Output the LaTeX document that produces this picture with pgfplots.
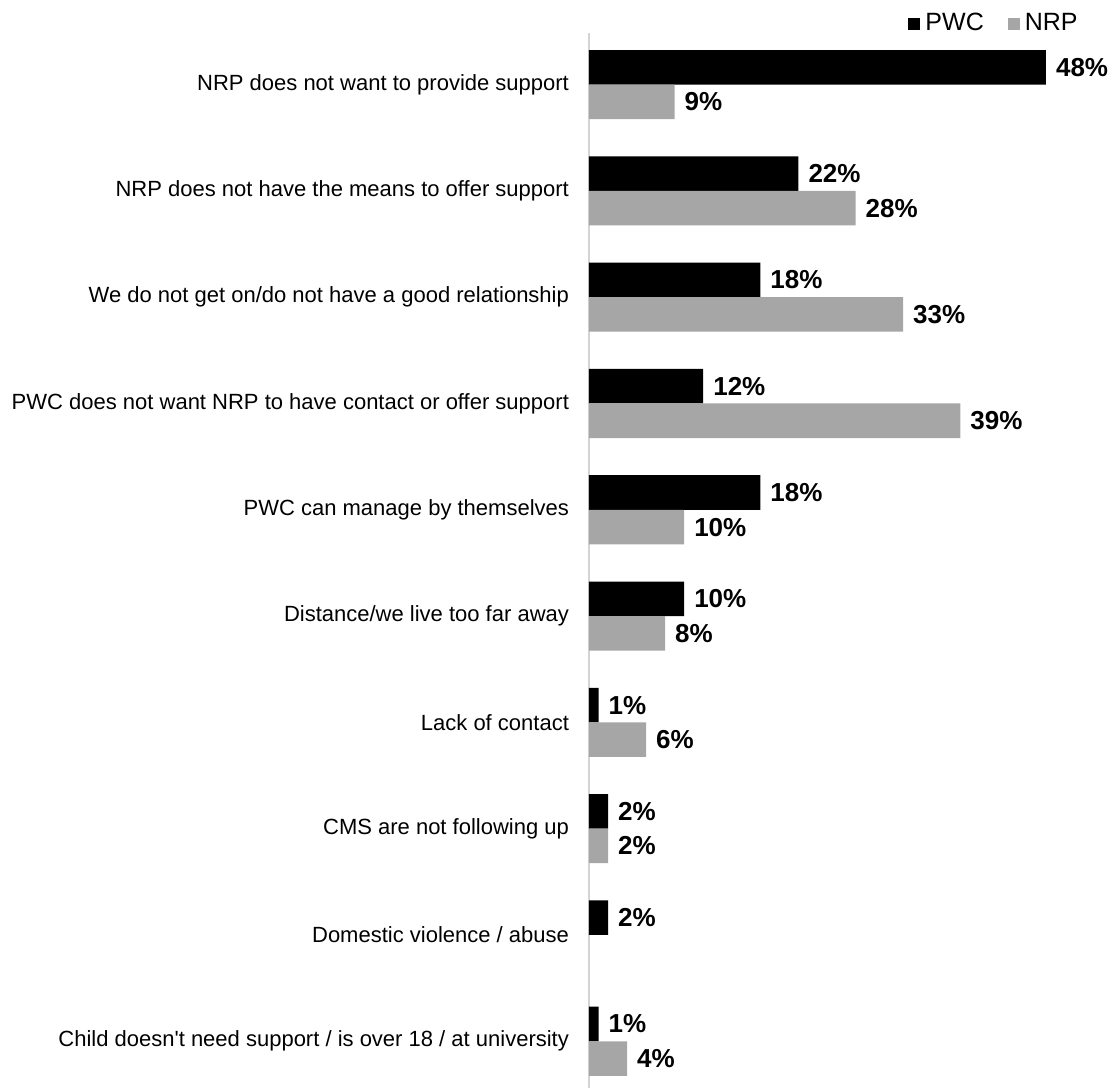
\documentclass[border=0pt]{standalone}
\usepackage{fontspec}
\setmainfont{Liberation Sans}
\usepackage{pgfplots}
\usepackage{pgfplotstable}
\pgfplotsset{compat=1.18}
\definecolor{nrpgray}{HTML}{A6A6A6}
\definecolor{axgray}{HTML}{D4D4D4}

\pgfplotstableread{
idx pwc
0 48
1 22
2 18
3 12
4 18
5 10
6 1
7 2
8 2
9 1
}\pwcdata
\pgfplotstableread{
idx nrp
0 9
1 28
2 33
3 39
4 10
5 8
6 6
7 2
9 4
}\nrpdata

\begin{document}
\begin{tikzpicture}
\useasboundingbox (-294.5pt,16.5pt) rectangle (261pt,-527.5pt);
\begin{axis}[
  at={(0,0)}, anchor=north west,
  scale only axis, width=261pt, height=527.5pt,
  xbar, bar width=0.325,
  xmin=0, xmax=54.83,
  ymin=-0.485, ymax=9.44, y dir=reverse,
  axis x line=none, axis y line=left,
  axis line style={draw=axgray, line width=1pt, -},
  ytick={0,1,2,3,4,5,6,7,8,9},
  yticklabels={NRP does not want to provide support,
    NRP does not have the means to offer support,
    We do not get on/do not have a good relationship,
    PWC does not want NRP to have contact or offer support,
    PWC can manage by themselves,
    Distance/we live too far away,
    Lack of contact,
    CMS are not following up,
    Domestic violence / abuse,
    Child doesn\textquotesingle t need support / is over 18 / at university},
  major tick length=0pt,
  yticklabel style={font=\fontsize{11pt}{13pt}\selectfont, xshift=-6.5pt},
  nodes near coords={\pgfmathprintnumber{\pgfplotspointmeta}\%},
  point meta=x,
  every node near coord/.append style={font=\fontsize{13pt}{15pt}\selectfont\bfseries, anchor=west, xshift=1.5pt, text=black},
  /pgf/number format/.cd, fixed, precision=0, assume math mode=true, /pgfplots/.cd,
  legend style={at={(0.9406,1.009)}, anchor=east, draw=none, fill=none, inner sep=0pt,
    font=\fontsize{12.5pt}{14pt}\selectfont, legend columns=2,
    /tikz/every even column/.append style={column sep=11pt},
    nodes={inner sep=1pt}},
  legend image code/.code={\fill[#1, draw=none] (0pt,-3pt) rectangle (6pt,3pt); \path (7.5pt,0pt);},
  clip=false,
]
\addplot[fill=black, draw=none, bar shift=0pt] table[x=pwc, y expr=\thisrow{idx}-0.1625] {\pwcdata};
\addlegendentry{PWC}
\addplot[fill=nrpgray, draw=none, bar shift=0pt] table[x=nrp, y expr=\thisrow{idx}+0.1625] {\nrpdata};
\addlegendentry{NRP}
\end{axis}
\end{tikzpicture}
\end{document}
